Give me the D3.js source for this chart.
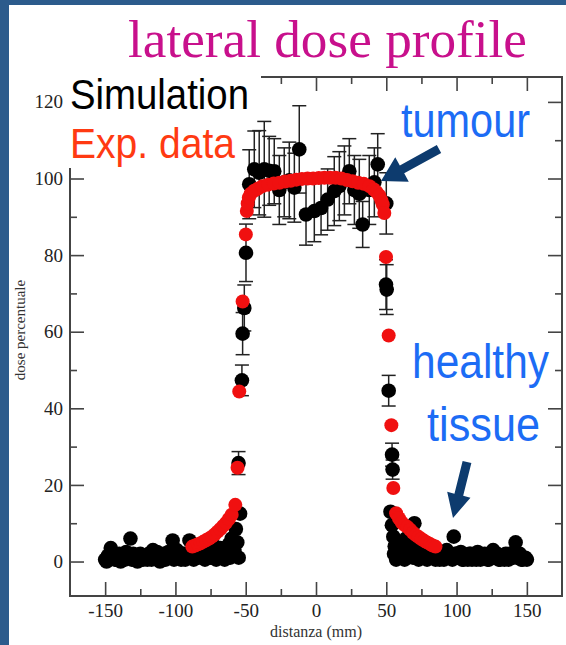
<!DOCTYPE html>
<html>
<head>
<meta charset="utf-8">
<script src="https://cdn.jsdelivr.net/npm/d3@7"></script>
<style>
  html, body { margin: 0; padding: 0; background: #2c5b8c; }
  svg { display: block; }
</style>
</head>
<body>
<svg id="chart"></svg>
<script>
// ---- data ----
const xTicks = [-150, -100, -50, 0, 50, 100, 150];
const xMinor = [-125, -75, -25, 25, 75, 125];
const yTicks = [0, 20, 40, 60, 80, 100, 120];
const yMinor = [10, 30, 50, 70, 90, 110];

// simulation, tails (error bars hidden under the markers)
const simTailX = [-150, -148, -146, -144, -142, -140, -138, -136, -134, -132, -130, -128, -126, -124, -122, -120,
  -118, -116, -114, -112, -110, -108, -106, -104, -102, -100, -98, -96, -94, -92, -90, -88, -86, -84, -82, -80,
  -78, -76, -74, -72, -70, -68, -66, -64, -62, -60, -59, -58, -57, -56, -55, -54,
  53, 54, 55, 55.5, 56, 57, 58, 60, 62, 64, 66, 68, 70, 72, 74, 76, 78, 80, 82, 84, 86, 88, 90, 92, 94, 96,
  98, 100, 102, 104, 106, 108, 110, 112, 114, 116, 118, 120, 122, 124, 126, 128, 130, 132, 134, 136, 138,
  140, 142, 144, 146, 148, 150];
const simTailY = [0.5, 1.5, 3.5, 1, 0.5, 2, 1, 0.5, 2, 6, 2, 1, 0.5, 1.5, 1, 0.5,
  1.5, 3, 1, 0.5, 1.5, 2, 1, 1.5, 5.5, 1, 2, 0.5, 2, 1.5, 5.5, 1.5, 3, 1, 2.5, 3.5,
  2, 3, 1.5, 4, 2.5, 3.5, 1, 2.5, 4.5, 6, 1.5, 3, 8.5, 5, 1, 12.5,
  13, 9.5, 6.5, 2, 4, 0.5, 3, 5, 2, 6, 3, 1.5, 10, 4, 2.5, 1, 3.5, 2, 1, 3, 1.5, 0.5, 2.5, 1, 2, 1,
  6.5, 2, 1, 0.5, 1.5, 0.5, 2, 1, 0.5, 1.5, 1, 2, 0.5, 1.5, 3, 1, 0.5, 1.5, 0.5, 1, 2,
  1, 5, 1.5, 0.5, 1, 0.5];

// simulation, extra tail points in between
const simTail2X = [-149, -147, -145, -143, -141, -139, -137, -135, -133, -131, -129, -127, -125, -123, -121, -119,
  -117, -115, -113, -111, -109, -107, -105, -103, -101, -99, -97, -95, -93, -91, -89, -87, -85, -83, -81, -79,
  -77, -75, -73, -71, -69, -67, -65, -63, -61,
  59, 61, 63, 65, 67, 69, 71, 73, 75, 77, 79, 81, 83, 85, 87, 89, 91, 93, 95, 97, 99, 101, 103, 105, 107,
  109, 111, 113, 115, 117, 119, 121, 123, 125, 127, 129, 131, 133, 135, 137, 139, 141, 143, 145, 147, 149];
const simTail2Y = [0, 1, 2, 0.5, 1.5, 0, 1, 2.5, 1, 0.5, 1.5, 0, 2, 0.5, 1, 2,
  0.5, 1, 2.5, 0, 1, 0.5, 2.5, 1, 0.5, 3, 1, 2, 0.5, 1, 2.5, 0.5, 1.5, 3, 1, 0.5,
  2, 1, 2.5, 0.5, 2, 3, 0.5, 2, 1,
  1, 2.5, 0.5, 2, 4, 1, 2.5, 0.5, 3, 1.5, 0.5, 2, 1, 0.5, 2, 1, 0.5, 3, 1.5, 0.5, 2, 1, 2.5, 0.5, 1,
  2, 0.5, 1, 2.5, 0.5, 1, 1.5, 0.5, 2, 1, 2, 0.5, 1, 2, 0.5, 1, 2.5, 1, 2, 0.5, 1];

// simulation, edges and plateau with visible error bars
const simX = [-55.1, -52.7, -52.2, -51, -49.8, -47.5, -43.9, -40.4, -36.8, -33.3, -29.7, -26.1, -22.6, -19,
  -15.4, -11.9, -7.1, -1.2, 3.6, 8.3, 13, 16.6, 20.2, 23.7, 27.3, 30.8, 33.2, 37.9, 41.5, 43.9, 50,
  49.8, 50.3, 51.7, 54.1, 54.5];
const simY = [25.7, 47.3, 59.5, 66.2, 80.6, 98.5, 102.4, 101.5, 102.4, 102, 101.9, 97, 99, 99.5,
  97.6, 107.6, 90.6, 91.5, 92.3, 94.5, 96.7, 98, 99.5, 101.9, 97, 96, 88, 97, 99, 103.7, 93.5,
  72.3, 71, 44.6, 27.9, 24];
const simErr = [3, 4, 5.5, 6, 7.5, 9, 10, 11, 12.5, 9, 8.5, 9, 9, 10,
  9, 11.4, 8, 8, 7, 8, 9, 9, 9, 8.5, 9, 9, 6, 9, 9, 8, 8,
  6.5, 6.5, 4, 3, 2.5];

// experimental data
const expX = [-88, -86, -84, -82, -80, -78, -76, -74, -72, -70, -68, -66, -64, -62, -60, -57.4,
  -55.8, -54.6, -52.2, -49.9, -49.2, -48.6, -47.8, -46.5, -44, -41.5, -38, -34, -30, -26, -22, -18,
  -14, -10, -6, -2, 2, 6, 10, 14, 18, 22, 26, 30, 34, 38, 41, 43, 45, 46.5, 47.5, 48.6,
  49.8, 51.7, 53.6, 55, 57, 59, 61, 63, 65, 67, 69, 71, 73, 75, 77, 79, 81, 83, 85];
const expY = [3.9, 4.2, 4.5, 4.8, 5.2, 5.6, 6, 6.5, 7.1, 7.8, 8.5, 9.3, 10.1, 11.1, 12.2, 14.8,
  24.5, 44.4, 67.9, 85.4, 91.5, 93.5, 95, 96, 96.8, 97.3, 98, 98.4, 98.7, 98.9, 99.2, 99.4,
  99.7, 99.9, 100, 100, 100.1, 100.2, 100.2, 100.2, 100, 99.6, 99.3, 98.9, 98.6, 98, 97.2, 96.5, 95.6, 94.3, 93.2, 91,
  79.5, 59, 35.6, 19.2, 12.6, 11.3, 10.2, 9.5, 9, 8.3, 7.5, 6.9, 6.4, 5.9, 5.4, 5, 4.6, 4.2, 3.9];

// ---- drawing ----
const W = 566, H = 645;
const svg = d3.select('#chart').attr('width', W).attr('height', H);

svg.append('rect').attr('width', W).attr('height', H).attr('fill', '#2c5b8c');
svg.append('rect').attr('x', 9).attr('y', 5).attr('width', W - 9).attr('height', H - 5).attr('fill', '#fff');

const x = d3.scaleLinear().domain([-175, 175]).range([70, 562]);
const y = d3.scaleLinear().domain([-9, 126.5]).range([596, 77]);

const axisColor = '#444';
const serif = '"Liberation Serif", "Times New Roman", serif';
const narrow = '"Liberation Sans Narrow", "Arial Narrow", "Liberation Sans", sans-serif';

function styleAxis(g) {
  g.select('.domain').remove();
  g.selectAll('.tick line').attr('stroke', axisColor).attr('stroke-width', 1.6);
  g.selectAll('.tick text').attr('fill', '#222').style('font-family', serif).style('font-size', '19px');
}

const fmt = d => String(d);
// bottom / left with labels
svg.append('g').attr('transform', `translate(0,${y(-9)})`)
  .call(d3.axisBottom(x).tickValues(xTicks).tickSizeInner(-14).tickSizeOuter(0).tickPadding(8).tickFormat(fmt))
  .call(styleAxis);
svg.append('g').attr('transform', `translate(0,${y(-9)})`)
  .call(d3.axisBottom(x).tickValues(xMinor).tickSizeInner(-7).tickSizeOuter(0).tickFormat(''))
  .call(styleAxis);
svg.append('g').attr('transform', `translate(${x(-175)},0)`)
  .call(d3.axisLeft(y).tickValues(yTicks).tickSizeInner(-14).tickSizeOuter(0).tickPadding(7).tickFormat(fmt))
  .call(styleAxis);
svg.append('g').attr('transform', `translate(${x(-175)},0)`)
  .call(d3.axisLeft(y).tickValues(yMinor).tickSizeInner(-7).tickSizeOuter(0).tickFormat(''))
  .call(styleAxis);
// top / right, ticks only
svg.append('g').attr('transform', `translate(0,${y(126.5)})`)
  .call(d3.axisTop(x).tickValues(xTicks).tickSizeInner(-14).tickSizeOuter(0).tickFormat(''))
  .call(styleAxis);
svg.append('g').attr('transform', `translate(0,${y(126.5)})`)
  .call(d3.axisTop(x).tickValues(xMinor).tickSizeInner(-7).tickSizeOuter(0).tickFormat(''))
  .call(styleAxis);
svg.append('g').attr('transform', `translate(${x(175)},0)`)
  .call(d3.axisRight(y).tickValues(yTicks).tickSizeInner(-14).tickSizeOuter(0).tickFormat(''))
  .call(styleAxis);
svg.append('g').attr('transform', `translate(${x(175)},0)`)
  .call(d3.axisRight(y).tickValues(yMinor).tickSizeInner(-7).tickSizeOuter(0).tickFormat(''))
  .call(styleAxis);

svg.append('rect')
  .attr('x', x(-175)).attr('y', y(126.5))
  .attr('width', x(175) - x(-175)).attr('height', y(-9) - y(126.5))
  .attr('fill', 'none').attr('stroke', axisColor).attr('stroke-width', 2);

// axis titles
svg.append('text').attr('x', x(0)).attr('y', 637).attr('text-anchor', 'middle')
  .attr('fill', '#333').style('font-family', serif).style('font-size', '16px')
  .text('distanza (mm)');
svg.append('text').attr('transform', `translate(25,${330}) rotate(-90)`).attr('text-anchor', 'middle')
  .attr('fill', '#333').style('font-family', serif).style('font-size', '15px')
  .text('dose percentuale');

// white legend panel covering the top-left of the frame
svg.append('rect').attr('x', 66).attr('y', 72).attr('width', 195).attr('height', 96).attr('fill', '#fff');

// simulation error bars and markers
const plot = svg.append('g');
const bars = plot.append('g').attr('stroke', '#222').attr('stroke-width', 1.5);
simX.forEach((d, i) => {
  const cx = x(d), y0 = y(simY[i] - simErr[i]), y1 = y(simY[i] + simErr[i]);
  bars.append('line').attr('x1', cx).attr('x2', cx).attr('y1', y0).attr('y2', y1);
  bars.append('line').attr('x1', cx - 7).attr('x2', cx + 7).attr('y1', y0).attr('y2', y0);
  bars.append('line').attr('x1', cx - 7).attr('x2', cx + 7).attr('y1', y1).attr('y2', y1);
});
const simPts = d3.zip(simTailX, simTailY)
  .concat(d3.zip(simTail2X, simTail2Y))
  .concat(d3.zip(simX, simY));
plot.append('g').selectAll('circle')
  .data(simPts)
  .join('circle')
  .attr('cx', d => x(d[0])).attr('cy', d => y(d[1])).attr('r', 7.3)
  .attr('fill', '#000');

// experimental markers
plot.append('g').selectAll('circle')
  .data(d3.zip(expX, expY))
  .join('circle')
  .attr('cx', d => x(d[0])).attr('cy', d => y(d[1])).attr('r', 7)
  .attr('fill', '#f01010');

// title and legend text
svg.append('text').attr('x', 128).attr('y', 57)
  .attr('fill', '#c8108c').style('font-family', serif).style('font-size', '52px')
  .attr('textLength', 399).attr('lengthAdjust', 'spacingAndGlyphs')
  .text('lateral dose profile');
svg.append('text').attr('x', 70).attr('y', 109)
  .attr('fill', '#000').style('font-family', narrow).style('font-size', '42px')
  .attr('textLength', 179).attr('lengthAdjust', 'spacingAndGlyphs')
  .text('Simulation');
svg.append('text').attr('x', 70).attr('y', 158)
  .attr('fill', '#ff3a12').style('font-family', narrow).style('font-size', '43px')
  .attr('textLength', 165).attr('lengthAdjust', 'spacingAndGlyphs')
  .text('Exp. data');

// annotations
const blue = '#1c6cf5';
function blueText(t, tx, ty, len) {
  svg.append('text').attr('x', tx).attr('y', ty)
    .attr('fill', blue).style('font-family', narrow).style('font-size', '48px')
    .attr('textLength', len).attr('lengthAdjust', 'spacingAndGlyphs')
    .text(t);
}
blueText('tumour', 401, 137, 129);
blueText('healthy', 412, 378, 137);
blueText('tissue', 427, 441, 113);

function arrow(x1, y1, x2, y2, sw, hl, hw) {
  const dx = x2 - x1, dy = y2 - y1, len = Math.hypot(dx, dy);
  const ux = dx / len, uy = dy / len, nx = -uy, ny = ux;
  const bx = x2 - ux * hl, by = y2 - uy * hl;
  const pts = [
    [x1 + nx * sw, y1 + ny * sw], [bx + nx * sw, by + ny * sw], [bx + nx * hw, by + ny * hw],
    [x2, y2],
    [bx - nx * hw, by - ny * hw], [bx - nx * sw, by - ny * sw], [x1 - nx * sw, y1 - ny * sw]
  ];
  svg.append('path').attr('d', 'M' + pts.map(p => p.join(',')).join('L') + 'Z').attr('fill', '#0d3b6e');
}
arrow(439, 149, 381, 181, 4.5, 24, 14);
arrow(467, 462, 453, 518, 4.5, 24, 12);
</script>
</body>
</html>
